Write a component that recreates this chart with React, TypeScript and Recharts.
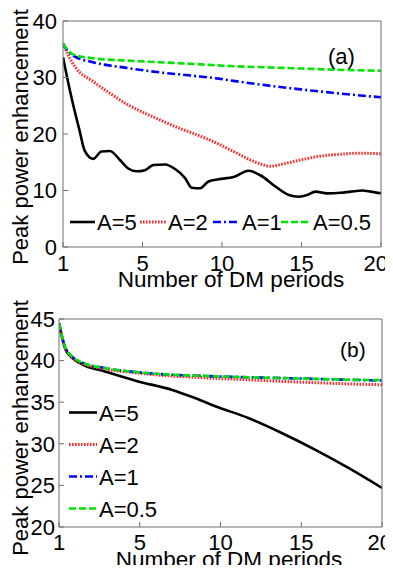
import React from 'react';
import { LineChart, Line, XAxis, YAxis, Legend } from 'recharts';

const FONT = '"Liberation Sans", Arial, Helvetica, sans-serif';
const AXIS_COLOR = '#6e6e6e';

// shared x axis: positions 0..20, first tick labelled "1"
const X_TICKS = [0, 5, 10, 15, 20];
const X_TICK_LABELS = ['1', '5', '10', '15', '20'];
const Y_TICKS_A = [0, 10, 20, 30, 40];
const Y_TICKS_B = [20, 25, 30, 35, 40, 45];

const SERIES_NAMES = ['A=5', 'A=2', 'A=1', 'A=0.5'];

// ---------- panel (a) ----------
const A5_X_A = [0, 0.53, 1.05, 1.37, 1.89, 2.42, 2.95, 3.58, 4.1, 4.63, 5.15, 5.68, 6.42, 7.05, 7.68, 8.1, 8.63, 9.15, 9.78, 10.73, 11.68, 12.41, 13.36, 14.2, 14.83, 15.36, 15.88, 16.62, 17.46, 18.09, 18.83, 19.36, 20];
const A5_Y_A = [33.6, 26.5, 20.5, 17.0, 15.6, 16.9, 17.0, 15.4, 13.9, 13.4, 13.6, 14.5, 14.6, 13.8, 12.2, 10.5, 10.4, 11.6, 12.0, 12.4, 13.5, 12.7, 10.7, 9.2, 8.9, 9.2, 9.8, 9.5, 9.6, 9.8, 10.0, 9.8, 9.5];

const A2_X_A = [0, 0.32, 0.84, 1.89, 2.95, 4.0, 5.05, 6.1, 7.15, 8.2, 9.26, 10.73, 11.78, 12.41, 13.04, 14.0, 14.94, 15.99, 17.36, 18.62, 20];
const A2_Y_A = [36.0, 34.0, 31.6, 29.3, 27.2, 25.3, 23.8, 22.5, 21.2, 20.1, 18.9, 16.9, 15.4, 14.7, 14.3, 14.8, 15.4, 16.0, 16.4, 16.6, 16.5];

const A1_X_A = [0, 0.32, 0.63, 1.89, 4.0, 6.1, 8.2, 9.78, 10.73, 12.83, 14.94, 16.94, 20];
const A1_Y_A = [36.0, 34.6, 33.9, 32.7, 31.7, 30.9, 30.3, 29.8, 29.4, 28.6, 27.9, 27.3, 26.5];

const A05_X_A = [0, 0.32, 0.63, 1.89, 4.0, 6.1, 8.2, 10.73, 12.83, 14.94, 16.94, 20];
const A05_Y_A = [36.0, 34.8, 34.1, 33.4, 33.0, 32.7, 32.4, 32.0, 31.8, 31.6, 31.4, 31.2];

// ---------- panel (b) ----------
const X_B = [0, 0.46, 1.39, 2.84, 4.9, 6.97, 8.41, 9.85, 11.72, 13.79, 15.85, 17.92, 20];
const A5_Y_B = [44.5, 41.1, 39.6, 38.7, 37.5, 36.5, 35.5, 34.4, 33.1, 31.3, 29.3, 27.1, 24.7];
const A2_Y_B = [44.4, 41.2, 39.7, 39.0, 38.5, 38.15, 38.0, 37.85, 37.7, 37.5, 37.35, 37.2, 37.1];
const A1_Y_B = [44.5, 41.3, 39.8, 39.1, 38.6, 38.3, 38.2, 38.1, 38.0, 37.9, 37.8, 37.7, 37.6];
const A05_Y_B = [44.5, 41.3, 39.8, 39.1, 38.6, 38.3, 38.2, 38.1, 38.0, 37.9, 37.8, 37.7, 37.65];

const STYLES = [
  { color: '#000000', dash: undefined, width: 2.6 },
  { color: '#ff2b2b', dash: '1.6 1.4', width: 3 },
  { color: '#0000ff', dash: '8 3 2 3', width: 2.6 },
  { color: '#00e400', dash: '7 3', width: 2.6 },
];

const zip = (xs: number[], ys: number[]) => xs.map((x, i) => ({ x, y: ys[i] }));

const SERIES_A = [zip(A5_X_A, A5_Y_A), zip(A2_X_A, A2_Y_A), zip(A1_X_A, A1_Y_A), zip(A05_X_A, A05_Y_A)];
const SERIES_B = [zip(X_B, A5_Y_B), zip(X_B, A2_Y_B), zip(X_B, A1_Y_B), zip(X_B, A05_Y_B)];

const fmtX = (v: number) => X_TICK_LABELS[X_TICKS.indexOf(v)] ?? String(v);
const tickStyle = { fill: '#000', fontSize: 22, fontFamily: FONT };
const textStyle = { fill: '#000', fontSize: 22, fontFamily: FONT };

// bottom tick labels; the last one ("20") is pulled inside the page
function renderXTick(tp: any, lastShift: number) {
  const v = tp.payload?.value;
  const last = v === X_TICKS[X_TICKS.length - 1];
  return (
    <text
      key={`xt-${v}`}
      x={last ? tp.x + lastShift : tp.x}
      y={tp.y}
      dy="0.71em"
      textAnchor={last ? 'end' : 'middle'}
      {...tickStyle}
    >
      {fmtX(v)}
    </text>
  );
}

function LegendItem({ i, x, y, len }: { i: number; x: number; y: number; len: number }) {
  const s = STYLES[i];
  return (
    <g>
      <line x1={x} y1={y} x2={x + len} y2={y} stroke={s.color} strokeWidth={s.width} strokeDasharray={s.dash} />
      <text x={x + len + 2} y={y + 8} {...textStyle}>{SERIES_NAMES[i]}</text>
    </g>
  );
}

function OverlayA() {
  const spots = [
    { x: 70, len: 25 },
    { x: 140, len: 26 },
    { x: 213, len: 27 },
    { x: 281, len: 30 },
  ];
  return (
    <svg width={393} height={295} style={{ display: 'block' }}>
      {spots.map((p, i) => (
        <LegendItem key={i} i={i} x={p.x} y={222} len={p.len} />
      ))}
      <text x={328} y={63.5} {...textStyle}>(a)</text>
    </svg>
  );
}

function OverlayB() {
  const rows = [127.5, 159.5, 191.5, 223.5];
  return (
    <svg width={393} height={288} style={{ display: 'block' }}>
      {rows.map((y, i) => (
        <LegendItem key={i} i={i} x={69} y={y} len={28} />
      ))}
      <text x={340} y={72} {...textStyle} fontSize={21}>(b)</text>
    </svg>
  );
}

type PanelProps = {
  height: number;
  margin: { top: number; right: number; bottom: number; left: number };
  yDomain: [number, number];
  yTicks: number[];
  yWidth: number;
  xHeight: number;
  xTickMargin: number;
  yTickMargin: number;
  lastShift: number;
  series: { x: number; y: number }[][];
  xLabel: { x: number; y: number };
  yLabel: { x: number; y: number };
  overlay: () => React.ReactElement;
};

function Panel(p: PanelProps) {
  return (
    <LineChart width={393} height={p.height} margin={p.margin}>
      <XAxis
        xAxisId="b"
        dataKey="x"
        type="number"
        domain={[0, 20]}
        ticks={X_TICKS}
        interval={0}
        allowDataOverflow
        height={p.xHeight}
        tickSize={-5}
        tickMargin={p.xTickMargin}
        tick={(tp: any) => renderXTick(tp, p.lastShift)}
        stroke={AXIS_COLOR}
        label={() => (
          <text x={p.xLabel.x} y={p.xLabel.y} textAnchor="middle" {...textStyle} fontSize={22.5}>
            Number of DM periods
          </text>
        )}
      />
      <XAxis
        xAxisId="t"
        orientation="top"
        type="number"
        domain={[0, 20]}
        ticks={X_TICKS}
        interval={0}
        allowDataOverflow
        height={1}
        tickSize={-5}
        tick={false}
        stroke={AXIS_COLOR}
      />
      <YAxis
        yAxisId="l"
        type="number"
        domain={p.yDomain}
        ticks={p.yTicks}
        interval={0}
        allowDataOverflow
        width={p.yWidth}
        tickSize={-5}
        tickMargin={p.yTickMargin}
        tick={tickStyle}
        stroke={AXIS_COLOR}
        label={() => (
          <text
            x={p.yLabel.x}
            y={p.yLabel.y}
            textAnchor="middle"
            transform={`rotate(-90 ${p.yLabel.x} ${p.yLabel.y})`}
            {...textStyle}
            fontSize={22}
          >
            Peak power enhancement
          </text>
        )}
      />
      <YAxis
        yAxisId="r"
        orientation="right"
        type="number"
        domain={p.yDomain}
        ticks={p.yTicks}
        interval={0}
        allowDataOverflow
        width={1}
        tickSize={-5}
        tick={false}
        stroke={AXIS_COLOR}
      />
      {p.series.map((d, i) => (
        <Line
          key={SERIES_NAMES[i]}
          name={SERIES_NAMES[i]}
          data={d}
          dataKey="y"
          xAxisId="b"
          yAxisId="l"
          type="monotone"
          stroke={STYLES[i].color}
          strokeWidth={STYLES[i].width}
          strokeDasharray={STYLES[i].dash}
          dot={false}
          isAnimationActive={false}
        />
      ))}
      <Legend
        layout="horizontal"
        verticalAlign="middle"
        align="center"
        content={p.overlay}
        wrapperStyle={{ left: 0, top: 0, width: 393, height: p.height, pointerEvents: 'none' }}
      />
    </LineChart>
  );
}

export default function App() {
  return (
    <div style={{ position: 'relative', width: 393, height: 573, margin: -8, background: '#fff' }}>
      <div style={{ position: 'absolute', left: 0, top: 0 }}>
        <Panel
          height={295}
          margin={{ top: 20, right: 11, bottom: 0, left: 0 }}
          yDomain={[0, 40]}
          yTicks={Y_TICKS_A}
          yWidth={63}
          xHeight={48}
          xTickMargin={13}
          yTickMargin={11}
          lastShift={7}
          series={SERIES_A}
          xLabel={{ x: 231, y: 287 }}
          yLabel={{ x: 28, y: 137 }}
          overlay={OverlayA}
        />
      </div>
      <div style={{ position: 'absolute', left: 0, top: 285 }}>
        <Panel
          height={288}
          margin={{ top: 33, right: 10, bottom: 0, left: 0 }}
          yDomain={[20, 45]}
          yTicks={Y_TICKS_B}
          yWidth={59}
          xHeight={46}
          xTickMargin={12}
          yTickMargin={9}
          lastShift={10}
          series={SERIES_B}
          xLabel={{ x: 229, y: 282 }}
          yLabel={{ x: 28, y: 143 }}
          overlay={OverlayB}
        />
      </div>
    </div>
  );
}
